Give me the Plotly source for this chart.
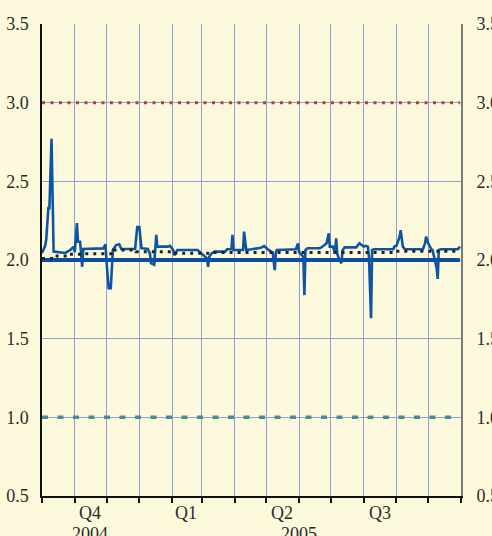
import plotly.graph_objects as go

# ---- data ----
eonia_dates = [
    "2004-10-01", "2004-10-04", "2004-10-05", "2004-10-07", "2004-10-08", "2004-10-10",
    "2004-10-12", "2004-10-18", "2004-10-23", "2004-10-28", "2004-10-31", "2004-11-01",
    "2004-11-03", "2004-11-04", "2004-11-06", "2004-11-08", "2004-11-09", "2004-11-28",
    "2004-11-30", "2004-12-01", "2004-12-03", "2004-12-05", "2004-12-06", "2004-12-07",
    "2004-12-10", "2004-12-13", "2004-12-15", "2004-12-28", "2004-12-30", "2005-01-01",
    "2005-01-03", "2005-01-09", "2005-01-11", "2005-01-12", "2005-01-15", "2005-01-16",
    "2005-01-17", "2005-01-18", "2005-01-28", "2005-01-30", "2005-02-02", "2005-02-03",
    "2005-02-05", "2005-02-06", "2005-02-25", "2005-03-01", "2005-03-06", "2005-03-07",
    "2005-03-08", "2005-03-10", "2005-03-13", "2005-03-23", "2005-03-25", "2005-03-29",
    "2005-03-30", "2005-03-31", "2005-04-09", "2005-04-10", "2005-04-12", "2005-04-17",
    "2005-04-26", "2005-04-29", "2005-05-02", "2005-05-07", "2005-05-09", "2005-05-10",
    "2005-05-11", "2005-05-29", "2005-05-31", "2005-06-01", "2005-06-05", "2005-06-06",
    "2005-06-07", "2005-06-09", "2005-06-20", "2005-06-22", "2005-06-27", "2005-06-29",
    "2005-06-30", "2005-07-03", "2005-07-05", "2005-07-06", "2005-07-07", "2005-07-09",
    "2005-07-11", "2005-07-12", "2005-07-14", "2005-07-25", "2005-07-28", "2005-08-01",
    "2005-08-03", "2005-08-05", "2005-08-06", "2005-08-08", "2005-08-09", "2005-08-11",
    "2005-08-29", "2005-08-30", "2005-09-01", "2005-09-04", "2005-09-05", "2005-09-07",
    "2005-09-09", "2005-09-26", "2005-09-28", "2005-09-29", "2005-10-01", "2005-10-04",
    "2005-10-05", "2005-10-07", "2005-10-09", "2005-10-10", "2005-10-11", "2005-10-13",
    "2005-10-29", "2005-10-31",
]
eonia_values = [
    2.045, 2.09, 2.13, 2.33, 2.33, 2.77,
    2.053, 2.05, 2.045, 2.065, 2.085, 2.05,
    2.235, 2.116, 2.116, 1.957, 2.07, 2.074,
    2.10, 1.99, 1.82, 1.82, 1.99, 2.064,
    2.095, 2.10, 2.07, 2.07, 2.21, 2.21,
    2.075, 2.07, 2.04, 1.98, 1.97, 2.106,
    2.16, 2.085, 2.085, 2.09, 2.064, 2.03,
    2.053, 2.064, 2.064, 2.04, 2.01, 1.957,
    2.02, 2.04, 2.053, 2.053, 2.068, 2.068,
    2.16, 2.064, 2.064, 2.18, 2.064, 2.068,
    2.078, 2.089, 2.07, 2.047, 1.936, 2.05,
    2.064, 2.068, 2.106, 2.05, 2.02, 1.777,
    2.064, 2.075, 2.075, 2.08, 2.106, 2.17,
    2.085, 2.085, 2.04, 2.138, 2.04, 2.0,
    1.98, 2.06, 2.08, 2.08, 2.106, 2.085,
    2.09, 2.085, 2.02, 1.63, 2.064, 2.068,
    2.068, 2.085, 2.09, 2.148, 2.19, 2.085,
    2.068, 2.068, 2.106, 2.148, 2.106, 2.068,
    2.064, 2.01, 1.947, 1.88, 2.064, 2.068,
    2.068, 2.085,
]

marginal_rate_dates = ["2004-10-01", "2004-10-13", "2004-10-27", "2004-11-10", "2004-12-08",
                       "2004-12-29", "2005-01-31", "2005-03-09", "2005-08-31", "2005-10-31"]
marginal_rate_values = [2.01, 2.025, 2.036, 2.04, 2.064, 2.053, 2.043, 2.047, 2.055, 2.055]

corridor_dates = ["2004-10-01", "2005-10-31"]
lending_rate = [3.0, 3.0]
mro_rate = [2.0, 2.0]
deposit_rate = [1.0, 1.0]

month_ticks = ["2004-10-01", "2004-11-01", "2004-12-01", "2005-01-01", "2005-02-01",
               "2005-03-01", "2005-04-01", "2005-05-01", "2005-06-01", "2005-07-01",
               "2005-08-01", "2005-09-01", "2005-10-01", "2005-11-01"]
quarter_label_dates = ["2004-11-15", "2005-02-14", "2005-05-16", "2005-08-16"]
quarter_labels = ["Q4", "Q1", "Q2", "Q3"]
year_label_dates = ["2004-11-15", "2005-06-01"]
year_labels = ["2004", "2005"]

x_range = ["2004-10-01", "2005-11-01"]
y_ticks = [0.5, 1.0, 1.5, 2.0, 2.5, 3.0, 3.5]

# ---- figure ----
BG = "#fdf9dc"
GRID = "#8fa0d8"
FONT = "Liberation Serif"

fig = go.Figure()

fig.add_trace(go.Scatter(x=corridor_dates, y=lending_rate, mode="lines",
                         line=dict(color="#b5403a", width=3, dash="3px,5.5px"),
                         hoverinfo="skip", showlegend=False))
fig.add_trace(go.Scatter(x=corridor_dates, y=deposit_rate, mode="lines",
                         line=dict(color="#4b8a9b", width=3.5, dash="6px,9.5px"),
                         hoverinfo="skip", showlegend=False))
fig.add_trace(go.Scatter(x=eonia_dates, y=eonia_values, mode="lines",
                         line=dict(color="#0c55a4", width=2.6),
                         showlegend=False))
fig.add_trace(go.Scatter(x=corridor_dates, y=mro_rate, mode="lines",
                         line=dict(color="#0b4f9c", width=4),
                         hoverinfo="skip", showlegend=False))
fig.add_trace(go.Scatter(x=marginal_rate_dates, y=marginal_rate_values, mode="lines",
                         line=dict(color="#222222", width=3, shape="hv", dash="3px,5px"),
                         showlegend=False))
# invisible trace to activate right axis
fig.add_trace(go.Scatter(x=corridor_dates, y=mro_rate, yaxis="y2", mode="lines",
                         line=dict(width=0), opacity=0, hoverinfo="skip", showlegend=False))

annotations = []
for d, t in zip(quarter_label_dates, quarter_labels):
    annotations.append(dict(x=d, y=-0.036, xref="x", yref="paper", text=t, showarrow=False,
                            yanchor="middle", xanchor="center",
                            font=dict(family=FONT, size=18, color="#2a2a2a")))
for d, t in zip(year_label_dates, year_labels):
    annotations.append(dict(x=d, y=-0.081, xref="x", yref="paper", text=t, showarrow=False,
                            yanchor="middle", xanchor="center",
                            font=dict(family=FONT, size=18, color="#2a2a2a")))

fig.update_layout(
    width=492, height=536,
    margin=dict(l=42, r=31, t=24, b=40, autoexpand=False),
    paper_bgcolor=BG, plot_bgcolor=BG,
    font=dict(family=FONT, size=18, color="#2a2a2a"),
    xaxis=dict(type="date", range=x_range, tickvals=month_ticks,
               ticktext=[""] * len(month_ticks), automargin=False,
               showgrid=True, gridcolor=GRID, gridwidth=1,
               showline=True, linecolor="#111111", linewidth=1.5,
               ticks="outside", ticklen=5, tickcolor="#111111", tickwidth=1.5,
               zeroline=False, fixedrange=True),
    yaxis=dict(range=[0.5, 3.5], tickvals=y_ticks, tickformat=".1f", automargin=False,
               showgrid=True, gridcolor=GRID, gridwidth=1,
               showline=True, linecolor="#111111", linewidth=1.5,
               ticks="", ticklabelstandoff=8, zeroline=False,
               tickfont=dict(family=FONT, size=18, color="#2a2a2a")),
    yaxis2=dict(range=[0.5, 3.5], tickvals=y_ticks, tickformat=".1f", automargin=False,
                overlaying="y", side="right", showgrid=False,
                showline=True, linecolor="#7a7a7a", linewidth=2,
                ticks="", ticklabelstandoff=10, zeroline=False,
                tickfont=dict(family=FONT, size=18, color="#2a2a2a")),
    annotations=annotations,
    showlegend=False,
)

fig.write_html(
    "out.html",
    config={"displayModeBar": False},
    post_script="document.body.style.margin='0';document.body.style.background='#fdf9dc';"
                "document.body.style.overflow='hidden';",
)
